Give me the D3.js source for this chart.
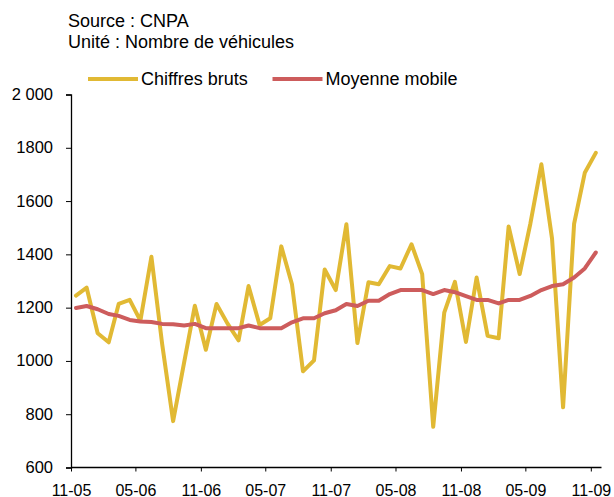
<!DOCTYPE html>
<html>
<head>
<meta charset="utf-8">
<script src="https://cdn.jsdelivr.net/npm/d3@7"></script>
<style>
  html, body { margin: 0; padding: 0; background: #fff; }
  svg { display: block; font-family: "Liberation Sans", Arial, sans-serif; }
</style>
</head>
<body>
<svg id="chart" width="614" height="497"></svg>
<script>
const months = [
  "2005-11","2005-12","2006-01","2006-02","2006-03","2006-04","2006-05","2006-06","2006-07","2006-08","2006-09","2006-10",
  "2006-11","2006-12","2007-01","2007-02","2007-03","2007-04","2007-05","2007-06","2007-07","2007-08","2007-09","2007-10",
  "2007-11","2007-12","2008-01","2008-02","2008-03","2008-04","2008-05","2008-06","2008-07","2008-08","2008-09","2008-10",
  "2008-11","2008-12","2009-01","2009-02","2009-03","2009-04","2009-05","2009-06","2009-07","2009-08","2009-09","2009-10",
  "2009-11"
];
const chiffresBruts = [
  1245, 1275, 1104, 1070, 1214, 1229, 1151, 1391, 1065, 774, 995, 1207,
  1042, 1214, 1140, 1077, 1281, 1135, 1160, 1430, 1288, 961, 1002, 1343,
  1266, 1513, 1067, 1295, 1288, 1356, 1347, 1438, 1326, 753, 1181, 1297,
  1071, 1313, 1094, 1085, 1505, 1326, 1515, 1738, 1459, 826, 1515, 1706,
  1781
];
const moyenneMobile = [
  1199, 1206, 1194, 1176, 1169, 1154, 1148, 1146, 1139, 1138, 1133, 1139,
  1123, 1123, 1123, 1123, 1133, 1123, 1123, 1123, 1145, 1160, 1160, 1179,
  1190, 1214, 1206, 1226, 1226, 1251, 1266, 1266, 1266, 1251, 1266, 1258,
  1243, 1229, 1229, 1216, 1229, 1229, 1244, 1266, 1281, 1288, 1313, 1347,
  1407
];
const xTickLabels = ["11-05","05-06","11-06","05-07","11-07","05-08","11-08","05-09","11-09"];
const yTicks = [600, 800, 1000, 1200, 1400, 1600, 1800, 2000];
const seriesNames = ["Chiffres bruts", "Moyenne mobile"];
const sourceLines = ["Source : CNPA", "Unité : Nombre de véhicules"];

const colors = ["#E1B934", "#CD5C5C"];

const svg = d3.select("#chart");
const parseMonth = d3.timeParse("%Y-%m");
const parseTick = d3.timeParse("%m-%y");
const dates = months.map(m => d3.timeDay.offset(parseMonth(m), 14));

const x = d3.scaleTime()
  .domain([parseMonth("2005-11"), parseMonth("2009-12")])
  .range([71, 601.5]);
const y = d3.scaleLinear().domain([600, 2000]).range([467.5, 94.5]);

// Source text
svg.selectAll("text.src").data(sourceLines).enter().append("text")
  .attr("class", "src")
  .attr("x", 68)
  .attr("y", (d, i) => 27 + i * 21.3)
  .attr("font-size", 18)
  .attr("fill", "#000")
  .text(d => d);

// Y axis
const yAxis = d3.axisLeft(y).tickValues(yTicks).tickSize(5).tickPadding(13)
  .tickFormat(d => d === 2000 ? "2 000" : String(d));
const gy = svg.append("g").attr("transform", "translate(71,0)").call(yAxis);
gy.select(".domain").attr("stroke", "#000").attr("stroke-width", 1.3);
gy.selectAll(".tick line").attr("stroke", "#000").attr("stroke-width", 1);
gy.selectAll(".tick text").attr("font-size", 16.5).attr("fill", "#000")
  .attr("font-family", "Liberation Sans, Arial, sans-serif").attr("dy", "0.3em");

// X axis
const xAxis = d3.axisBottom(x).tickValues(xTickLabels.map(parseTick)).tickSize(4).tickPadding(12)
  .tickFormat(d3.timeFormat("%m-%y"));
const gx = svg.append("g").attr("transform", "translate(0,467.5)").call(xAxis);
gx.select(".domain").attr("stroke", "#000").attr("stroke-width", 1.3)
  .attr("d", "M" + x.range()[0] + ",0H" + x.range()[1]);
gx.selectAll(".tick line").attr("stroke", "#000").attr("stroke-width", 1);
gx.selectAll(".tick text").attr("font-size", 16).attr("fill", "#000")
  .attr("font-family", "Liberation Sans, Arial, sans-serif").attr("dy", "0.75em");

// Lines
const line = d3.line().x((d, i) => x(dates[i])).y(d => y(d));
[chiffresBruts, moyenneMobile].forEach((s, k) => {
  svg.append("path")
    .datum(s)
    .attr("d", line)
    .attr("fill", "none")
    .attr("stroke", colors[k])
    .attr("stroke-width", 4)
    .attr("stroke-linejoin", "round")
    .attr("stroke-linecap", "round");
});

// Legend
const legendX = [88, 272.5];
const leg = svg.selectAll("g.leg").data(seriesNames).enter().append("g")
  .attr("class", "leg")
  .attr("transform", (d, i) => `translate(${legendX[i]},79)`);
leg.append("line").attr("x1", 0).attr("x2", 50).attr("y1", 0).attr("y2", 0)
  .attr("stroke", (d, i) => colors[i]).attr("stroke-width", 4);
leg.append("text").attr("x", 53).attr("y", 5.5).attr("font-size", 18).attr("fill", "#000")
  .text(d => d);
</script>
</body>
</html>
